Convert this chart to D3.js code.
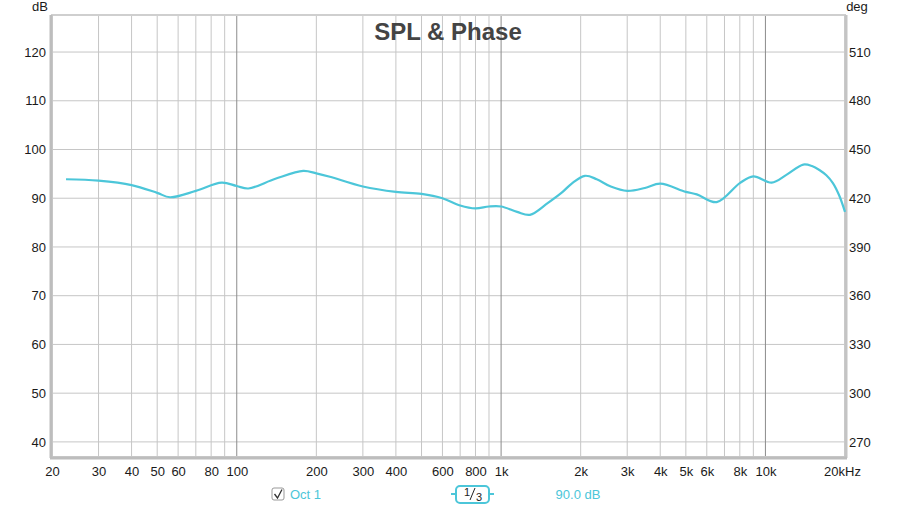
<!DOCTYPE html>
<html>
<head>
<meta charset="utf-8">
<script src="https://cdn.jsdelivr.net/npm/d3@7"></script>
<style>
  body { margin: 0; background: #fff; overflow: hidden; }
  svg { display: block; }
  text { font-family: "Liberation Sans", "DejaVu Sans", sans-serif; }
</style>
</head>
<body>
<svg id="mainsvg" width="910" height="511"></svg>
<script>
// measured response (Hz, dB)
const freqs = [22.6, 30, 40, 50, 55.9, 70, 87.7, 100, 110.6, 140, 178.5, 200, 225, 300, 400, 500, 600, 700, 800, 900, 1000, 1150, 1285, 1500, 1700, 1850, 2076, 2300, 2600, 3000, 3500, 4000, 5000, 5500, 6542, 8000, 8996, 10560, 12000, 13906, 15000, 16000, 17000, 18000, 19000, 20000];
const spl   = [93.9, 93.6, 92.7, 91.1, 90.2, 91.5, 93.2, 92.5, 92.0, 94.0, 95.6, 95.1, 94.4, 92.4, 91.3, 90.9, 90.0, 88.5, 87.9, 88.3, 88.3, 87.2, 86.6, 89.0, 91.2, 93.0, 94.6, 93.9, 92.4, 91.5, 92.1, 93.0, 91.3, 90.8, 89.2, 93.1, 94.5, 93.2, 94.8, 96.9, 96.6, 95.8, 94.7, 93.1, 90.6, 87.2];

const xTicks = [20, 30, 40, 50, 60, 80, 100, 200, 300, 400, 600, 800, 1000, 2000, 3000, 4000, 5000, 6000, 8000, 10000, 20000];
const xTickLabels = ['20', '30', '40', '50', '60', '80', '100', '200', '300', '400', '600', '800', '1k', '2k', '3k', '4k', '5k', '6k', '8k', '10k', '20kHz'];
const xGrid = [30, 40, 50, 60, 70, 80, 90, 100, 200, 300, 400, 500, 600, 700, 800, 900, 1000, 2000, 3000, 4000, 5000, 6000, 7000, 8000, 9000, 10000];
const yTicks = [40, 50, 60, 70, 80, 90, 100, 110, 120];
const degTicks = [270, 300, 330, 360, 390, 420, 450, 480, 510];

const svg = d3.select('#mainsvg');
const margin = { top: 15, right: 65, bottom: 54, left: 52 };
const width = +svg.attr('width');
const height = +svg.attr('height');
const innerWidth = width - margin.left - margin.right;
const innerHeight = height - margin.top - margin.bottom;

const xScale = d3.scaleLog().domain([20, 20000]).range([0, innerWidth]);
const yScale = d3.scaleLinear().domain([36.9, 127.6]).range([innerHeight, 0]);
const degScale = d3.scaleLinear()
    .domain([270 + (36.9 - 40) * 3, 270 + (127.6 - 40) * 3])
    .range([innerHeight, 0]);

const g = svg.append('g').attr('transform', `translate(${margin.left}, ${margin.top})`);

// grid
g.selectAll('.hgrid').data(yTicks).join('line')
    .attr('x1', 0).attr('x2', innerWidth)
    .attr('y1', d => yScale(d)).attr('y2', d => yScale(d))
    .attr('stroke', '#c6c6c6').attr('stroke-width', 1);

g.selectAll('.vgrid').data(xGrid).join('line')
    .attr('x1', d => xScale(d)).attr('x2', d => xScale(d))
    .attr('y1', 0).attr('y2', innerHeight)
    .attr('stroke', d => [100, 1000, 10000].includes(d) ? '#8c8c8c' : '#c6c6c6')
    .attr('stroke-width', 1);

// frame
g.append('rect')
    .attr('x', 0).attr('y', 0)
    .attr('width', innerWidth).attr('height', innerHeight)
    .attr('fill', 'none').attr('stroke', '#cfcfcf').attr('stroke-width', 2);
g.append('line').attr('x1', -1).attr('x2', -1).attr('y1', 0).attr('y2', innerHeight + 1)
    .attr('stroke', '#bdbdbd').attr('stroke-width', 3);
g.append('line').attr('x1', innerWidth + 1).attr('x2', innerWidth + 1).attr('y1', 0).attr('y2', innerHeight + 1)
    .attr('stroke', '#c4c4c4').attr('stroke-width', 3);
g.append('line').attr('x1', -2).attr('x2', innerWidth + 2).attr('y1', innerHeight + 1).attr('y2', innerHeight + 1)
    .attr('stroke', '#bdbdbd').attr('stroke-width', 3);

// axes
const yAxis = g.append('g').call(d3.axisLeft(yScale).tickValues(yTicks).tickSize(0).tickPadding(6));
const degAxis = g.append('g').attr('transform', `translate(${innerWidth}, 0)`)
    .call(d3.axisRight(degScale).tickValues(degTicks).tickSize(0).tickPadding(4));
const xAxis = g.append('g').attr('transform', `translate(0, ${innerHeight})`)
    .call(d3.axisBottom(xScale).tickValues(xTicks).tickFormat((d, i) => xTickLabels[i]).tickSize(0).tickPadding(10));
[yAxis, degAxis, xAxis].forEach(a => {
    a.select('.domain').remove();
    a.selectAll('text').attr('font-size', 13).attr('fill', '#1a1a1a');
});
xAxis.selectAll('text').filter((d, i) => i === xTicks.length - 1).attr('dx', '-3');

svg.append('text').text('dB').attr('x', 40).attr('y', 11)
    .attr('text-anchor', 'middle').attr('font-size', 13).attr('fill', '#1a1a1a');
svg.append('text').text('deg').attr('x', 857).attr('y', 11)
    .attr('text-anchor', 'middle').attr('font-size', 13).attr('fill', '#1a1a1a');

// title
svg.append('text').text('SPL & Phase')
    .attr('x', 448).attr('y', 40).attr('text-anchor', 'middle')
    .attr('font-size', 24).attr('font-weight', 'bold').attr('fill', '#444');

// curve
const line = d3.line()
    .x(d => xScale(d[0]))
    .y(d => yScale(d[1]))
    .curve(d3.curveCatmullRom.alpha(0.5));
g.append('path')
    .datum(d3.zip(freqs, spl))
    .attr('d', line)
    .attr('fill', 'none')
    .attr('stroke', '#4cc6d9')
    .attr('stroke-width', 2.2);

// legend row
const cyan = '#4cc6d9';
const lg = svg.append('g');
lg.append('rect').attr('x', 272).attr('y', 488).attr('width', 12).attr('height', 12).attr('rx', 2)
    .attr('fill', '#fff').attr('stroke', '#999');
lg.append('path').attr('d', 'M274.5,494 L277.5,498 L282,489.5')
    .attr('fill', 'none').attr('stroke', '#333').attr('stroke-width', 1.3);
lg.append('text').text('Oct 1').attr('x', 290).attr('y', 499)
    .attr('font-size', 13).attr('fill', cyan);

lg.append('line').attr('x1', 451).attr('x2', 456).attr('y1', 494).attr('y2', 494).attr('stroke', cyan).attr('stroke-width', 2);
lg.append('line').attr('x1', 489).attr('x2', 494).attr('y1', 494).attr('y2', 494).attr('stroke', cyan).attr('stroke-width', 2);
lg.append('rect').attr('x', 456).attr('y', 486).attr('width', 33).attr('height', 17).attr('rx', 4)
    .attr('fill', '#fff').attr('stroke', cyan).attr('stroke-width', 2);
lg.append('text').text('1').attr('x', 464).attr('y', 496).attr('font-size', 11).attr('fill', '#222');
lg.append('line').attr('x1', 470).attr('x2', 475).attr('y1', 500).attr('y2', 488).attr('stroke', '#222');
lg.append('text').text('3').attr('x', 476).attr('y', 501).attr('font-size', 11).attr('fill', '#222');

lg.append('text').text('90.0 dB').attr('x', 578).attr('y', 499).attr('text-anchor', 'middle')
    .attr('font-size', 13).attr('fill', cyan);
</script>
</body>
</html>
